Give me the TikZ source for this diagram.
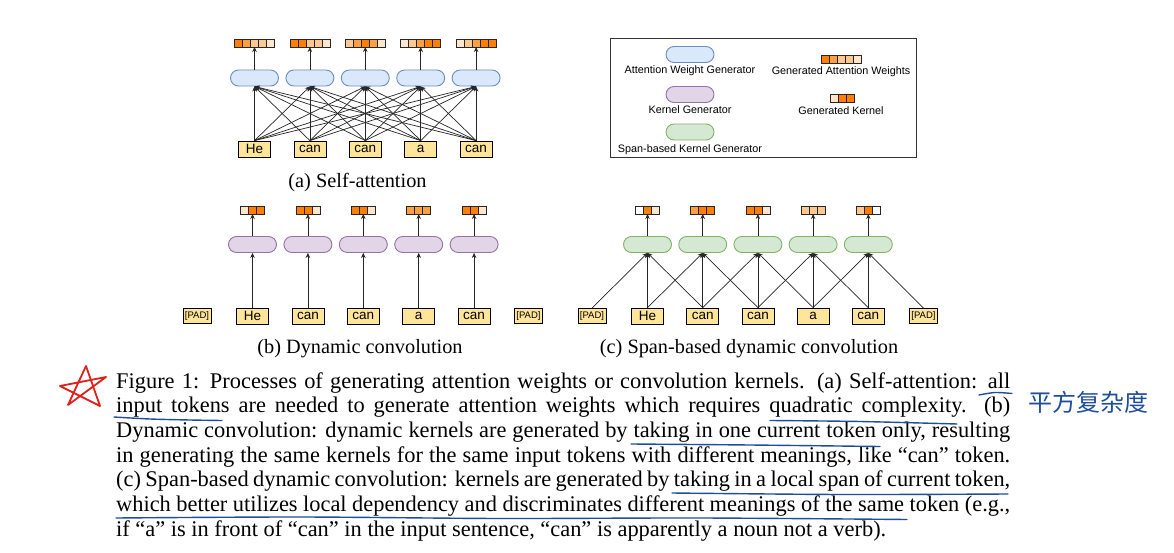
\documentclass[tikz,border=0pt]{standalone}
\usepackage{fontspec}
\setmainfont{Liberation Serif}
\newfontfamily\lsans{Liberation Sans}
\newfontfamily\cjkfont{Noto Sans CJK SC}
\usetikzlibrary{arrows.meta}
\definecolor{oA}{HTML}{FF8000}
\definecolor{oB}{HTML}{FFA040}
\definecolor{oC}{HTML}{FFC890}
\definecolor{oD}{HTML}{FFE6CC}
\definecolor{tokfill}{HTML}{FFE599}
\definecolor{blueF}{HTML}{DAE8FC}
\definecolor{blueD}{HTML}{6C8EBF}
\definecolor{purF}{HTML}{E1D5E7}
\definecolor{purD}{HTML}{9673A6}
\definecolor{grnF}{HTML}{D5E8D4}
\definecolor{grnD}{HTML}{82B366}
\definecolor{hand}{HTML}{1F4E9C}
\definecolor{redpen}{HTML}{E0201A}
\newcommand\wcells[2]{\foreach \cc [count=\ii from 0] in {#2} {\draw[cell, fill=\cc, shift={(#1.south west)}] (\ii*8,0) rectangle ++(8,-8);}}
\tikzset{
  tok/.style={draw=black, fill=tokfill, line width=0.8pt, inner sep=1pt,
    minimum width=32pt, minimum height=16pt, font=\lsans\fontsize{13.5}{14}\selectfont},
  padtok/.style={tok, minimum width=28pt, minimum height=15pt, font=\lsans\fontsize{9.5}{10}\selectfont},
  gen/.style={rounded corners=8pt, minimum width=48pt, minimum height=16pt, line width=0.9pt, inner sep=0pt},
  attgen/.style={gen, draw=blueD, fill=blueF},
  kergen/.style={gen, draw=purD, fill=purF},
  spangen/.style={gen, draw=grnD, fill=grnF},
  wbar/.style={inner sep=0pt, outer sep=0pt, minimum height=8pt},
  cell/.style={draw=black!85, line width=0.6pt},
  arr/.style={draw=black!85, line width=0.7pt, -{Stealth[length=5pt,width=4.5pt]}},
  subcap/.style={font=\fontsize{20.3}{24}\selectfont, inner sep=0pt},
  capline/.style={font=\fontsize{22.4}{26}\selectfont, inner sep=0pt, anchor=base west},
  legtext/.style={font=\lsans\fontsize{10.8}{12}\selectfont, inner sep=0pt},
  uline/.style={draw=hand, line width=1.4pt, line cap=round},
}
\begin{document}
\begin{tikzpicture}[x=1pt, y=-1pt]
\useasboundingbox (0,0) rectangle (1174,553);
\fill[white] (0,0) rectangle (1174,553);

% ---------------- (a) Self-attention ----------------
\foreach \t [count=\i] in {He,can,can,a,can}
  \node[tok] (a-t\i) at ({254.5+55.4*(\i-1)},149) {\t};
\foreach \i in {1,...,5} {
  \node[attgen] (a-g\i) at ({254.5+55.4*(\i-1)},78) {};
  \node[wbar, minimum width=40pt] (a-w\i) at ({254.5+55.4*(\i-1)},43) {};
}
\wcells{a-w1}{oA,oB,oC,oC,oD}
\wcells{a-w2}{oA,oA,oC,oC,oD}
\wcells{a-w3}{oC,oB,oA,oB,oD}
\wcells{a-w4}{oD,oC,oB,oA,oA}
\wcells{a-w5}{oD,oC,oB,oA,oA}
\foreach \i in {1,...,5} {
  \foreach \j in {1,...,5} \draw[arr] (a-t\i.north) -- (a-g\j.south);
  \draw[arr] (a-g\i.north) -- (a-w\i.south);
}
\node[subcap] (cap-a) at (357.5,183) {(a) Self-attention};

% ---------------- legend ----------------
\draw[black!80, line width=0.8pt] (610,38) rectangle (916,157);
\node[attgen] (lg-att) at (690,54.5) {};
\node[legtext] (lg-att-t) at (690,71) {Attention Weight Generator};
\node[kergen] (lg-ker) at (690,94.5) {};
\node[legtext] (lg-ker-t) at (690,110) {Kernel Generator};
\node[spangen] (lg-span) at (690,132) {};
\node[legtext] (lg-span-t) at (690,149.5) {Span-based Kernel Generator};
\node[wbar, minimum width=40pt] (lg-w) at (841,59.5) {};
\wcells{lg-w}{oA,oB,oC,oC,oD}
\node[legtext] (lg-w-t) at (841,72) {Generated Attention Weights};
\node[wbar, minimum width=24pt] (lg-k) at (842,98.5) {};
\wcells{lg-k}{oD,oA,oA}
\node[legtext] (lg-k-t) at (841,110.5) {Generated Kernel};

% ---------------- (b) Dynamic convolution ----------------
\node[padtok] (b-t0) at (197,316) {[PAD]};
\foreach \t [count=\i] in {He,can,can,a,can}
  \node[tok] (b-t\i) at ({252.5+55.4*(\i-1)},316) {\t};
\node[padtok] (b-t6) at (528.5,316) {[PAD]};
\foreach \i in {1,...,5} {
  \node[kergen] (b-g\i) at ({252.5+55.4*(\i-1)},244.5) {};
  \node[wbar, minimum width=24pt] (b-w\i) at ({252.5+55.4*(\i-1)},210) {};
}
\wcells{b-w1}{oD,oA,oA}
\wcells{b-w2}{oA,oA,oD}
\wcells{b-w3}{oA,oA,oD}
\wcells{b-w4}{oB,oB,oB}
\wcells{b-w5}{oA,oA,oD}
\foreach \i in {1,...,5} {
  \draw[arr] (b-t\i.north) -- (b-g\i.south);
  \draw[arr] (b-g\i.north) -- (b-w\i.south);
}
\node[subcap] (cap-b) at (360,349) {(b) Dynamic convolution};

% ---------------- (c) Span-based dynamic convolution ----------------
\node[padtok] (c-t0) at (592,316) {[PAD]};
\foreach \t [count=\i] in {He,can,can,a,can}
  \node[tok] (c-t\i) at ({647.5+55.2*(\i-1)},316) {\t};
\node[padtok] (c-t6) at (923.5,316) {[PAD]};
\foreach \i in {1,...,5} {
  \node[spangen] (c-g\i) at ({647.5+55.2*(\i-1)},244.5) {};
  \node[wbar, minimum width=24pt] (c-w\i) at ({647.5+55.2*(\i-1)},210) {};
}
\wcells{c-w1}{white,oA,oD}
\wcells{c-w2}{oB,oA,oA}
\wcells{c-w3}{oA,oA,oD}
\wcells{c-w4}{oC,oC,oC}
\wcells{c-w5}{oC,oA,white}
\foreach \i in {1,...,5} {
  \pgfmathtruncatemacro\prev{\i-1}
  \pgfmathtruncatemacro\next{\i+1}
  \draw[arr] (c-t\prev.north) -- (c-g\i.south);
  \draw[arr] (c-t\i.north) -- (c-g\i.south);
  \draw[arr] (c-t\next.north) -- (c-g\i.south);
  \draw[arr] (c-g\i.north) -- (c-w\i.south);
}
\node[subcap] (cap-c) at (749,349) {(c) Span-based dynamic convolution};

% ---------------- caption ----------------
\node[capline] (cap1) at (116,388) {\makebox[894pt][s]{Figure 1: Processes of generating attention weights or convolution kernels. (a) Self-attention: all}};
\node[capline] (cap2) at (116,412.7) {\makebox[894pt][s]{input tokens are needed to generate attention weights which requires quadratic complexity. (b)}};
\node[capline] (cap3) at (116,437.4) {\makebox[894pt][s]{Dynamic convolution: dynamic kernels are generated by taking in one current token only, resulting}};
\node[capline] (cap4) at (116,462.1) {\makebox[894pt][s]{in generating the same kernels for the same input tokens with different meanings, like ``can'' token.}};
\node[capline] (cap5) at (116,486.8) {\makebox[894pt][s]{(c) Span-based dynamic convolution: kernels are generated by taking in a local span of current token,}};
\node[capline] (cap6) at (116,511.5) {\makebox[894pt][s]{which better utilizes local dependency and discriminates different meanings of the same token (e.g.,}};
\node[capline] (cap7) at (116,536.2) {if ``a'' is in front of ``can'' in the input sentence, ``can'' is apparently a noun not a verb).};

% ---------------- handwritten annotations ----------------
\draw[redpen, line width=1.8pt, line join=round, line cap=round]
  (68,405) -- (86,366) -- (100,406) -- (60,386) -- (106,377) -- cycle;
\draw[uline] plot[smooth] coordinates {(979,395) (995,392.5) (1012,393.5)};
\draw[uline] plot[smooth] coordinates {(114,417) (150,419) (190,420) (222,420.5)};
\draw[uline] plot[smooth] coordinates {(770,420.5) (860,421.5) (957,424)};
\draw[uline] plot[smooth] coordinates {(631,444) (750,445) (880,446.5)};
\draw[uline] plot[smooth] coordinates {(672,493) (840,494.5) (1008,494)};
\draw[uline] plot[smooth] coordinates {(116,518) (300,517) (500,518.5) (700,518) (907,519.5)};
\node[font=\cjkfont\fontsize{24}{26}\selectfont, text=hand, inner sep=0pt] (zh) at (1088,402) {平方复杂度};
\end{tikzpicture}
\end{document}
